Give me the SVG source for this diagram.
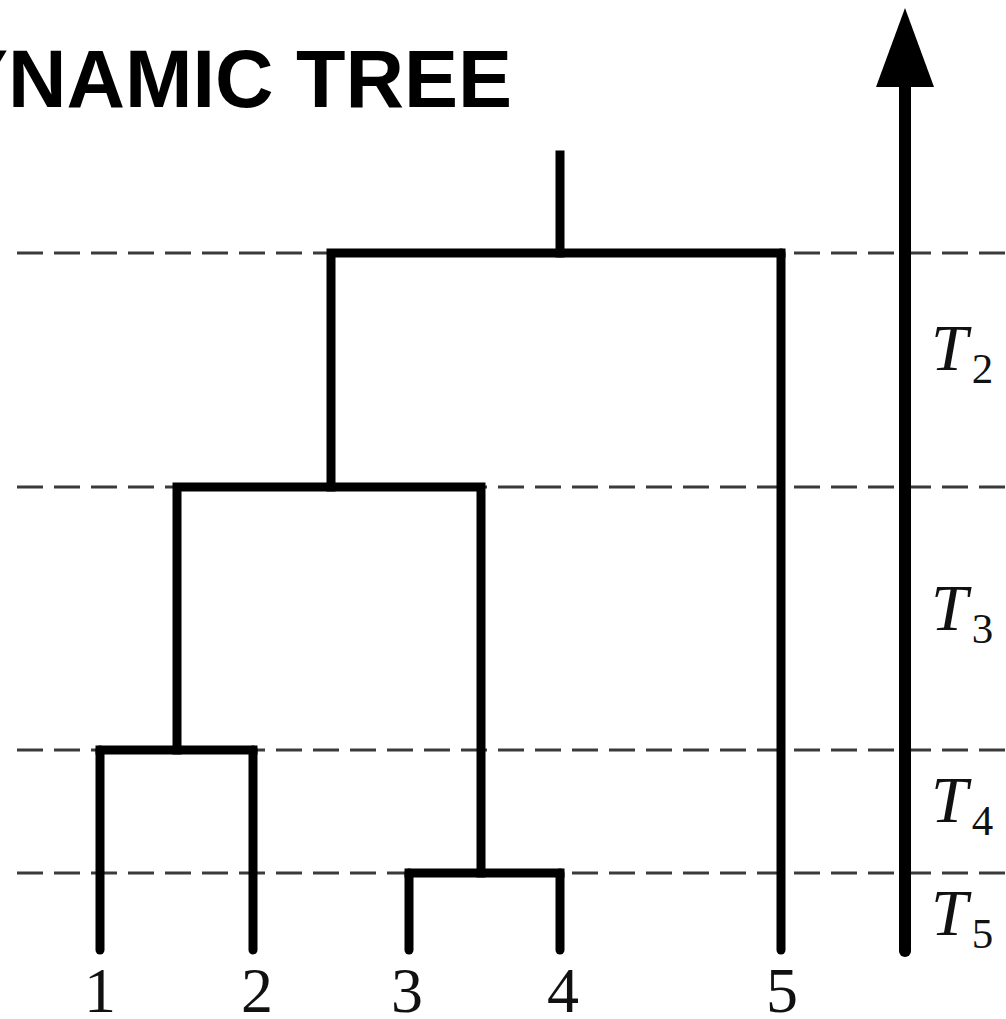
<svg xmlns="http://www.w3.org/2000/svg" width="1006" height="1019" viewBox="0 0 1006 1019">
<style>
.dash{stroke:#3a3a3a;stroke-width:3;stroke-dasharray:26 11;fill:none}
.br{stroke:#000;stroke-width:9;fill:none;stroke-linecap:square}
.leaf{stroke:#000;stroke-width:9;fill:none;stroke-linecap:round}
.num{font-family:"Liberation Serif","DejaVu Serif",serif;font-size:64px;fill:#111;text-anchor:middle}
.t{font-family:"Liberation Serif","DejaVu Serif",serif;font-size:66px;font-style:italic;fill:#111}
.sub{font-family:"Liberation Serif","DejaVu Serif",serif;font-size:43px;font-style:normal;fill:#111}
.title{font-family:"Liberation Sans",Arial,sans-serif;font-size:81px;font-weight:bold;fill:#000;text-anchor:end}
</style>
<rect width="1006" height="1019" fill="#fff"/>
<text class="title" x="512" y="107">YNAMIC TREE</text>
<g id="levels">
<line class="dash" x1="17" y1="253" x2="1006" y2="253"/>
<line class="dash" x1="17" y1="487" x2="1006" y2="487"/>
<line class="dash" x1="17" y1="750" x2="1006" y2="750"/>
<line class="dash" x1="17" y1="873" x2="1006" y2="873"/>
</g>
<g id="connectors">
<line class="br" x1="560" y1="155" x2="560" y2="253"/>
<polyline class="br" points="331,487 331,253 781,253"/>
<polyline class="br" points="177,750 177,487 481,487 481,873"/>
<polyline class="br" points="100,750 253,750"/>
<polyline class="br" points="409,873 560,873"/>
</g>
<g id="leaf1"><line class="leaf" x1="100" y1="750" x2="100" y2="950"/><text class="num" x="100" y="1012">1</text></g>
<g id="leaf2"><line class="leaf" x1="253" y1="750" x2="253" y2="950"/><text class="num" x="257" y="1012">2</text></g>
<g id="leaf3"><line class="leaf" x1="409" y1="873" x2="409" y2="950"/><text class="num" x="407" y="1012">3</text></g>
<g id="leaf4"><line class="leaf" x1="560" y1="873" x2="560" y2="950"/><text class="num" x="563" y="1012">4</text></g>
<g id="leaf5"><line class="leaf" x1="781" y1="253" x2="781" y2="950"/><text class="num" x="782" y="1012">5</text></g>
<g id="time-axis">
<line x1="905" y1="80" x2="905" y2="951" stroke="#000" stroke-width="12" stroke-linecap="round"/>
<polygon points="905,8 934,87 876,87" fill="#000"/>
</g>
<g id="labels">
<text class="t" x="931" y="370">T<tspan class="sub" dx="4" dy="13">2</tspan></text>
<text class="t" x="931" y="630">T<tspan class="sub" dx="4" dy="13">3</tspan></text>
<text class="t" x="931" y="822">T<tspan class="sub" dx="4" dy="13">4</tspan></text>
<text class="t" x="931" y="935">T<tspan class="sub" dx="4" dy="13">5</tspan></text>
</g>
</svg>
